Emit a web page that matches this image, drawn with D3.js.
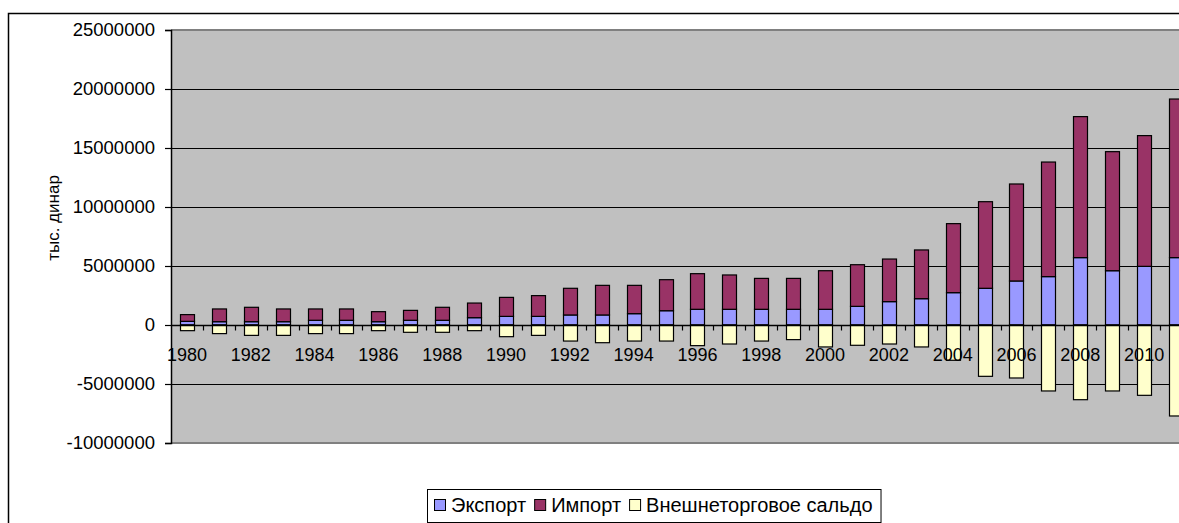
<!DOCTYPE html>
<html>
<head>
<meta charset="utf-8">
<script src="https://cdn.jsdelivr.net/npm/d3@7"></script>
<style>
  body { margin: 0; background: #fff; }
  svg { display: block; font-family: "Liberation Sans", Arial, sans-serif; }
</style>
</head>
<body>
<div id="chart"></div>
<script>
// --- data (тыс. динар) ---
const years = d3.range(1980, 2012).map(String);
const exportVals = [310000, 280000, 280000, 280000, 400000, 400000, 280000, 400000, 400000, 620000,
  730000, 730000, 850000, 850000, 960000, 1210000, 1330000, 1330000, 1330000, 1330000,
  1330000, 1580000, 1980000, 2230000, 2740000, 3110000, 3730000, 4100000, 5710000, 4600000,
  4970000, 5710000];
const importVals = [570000, 1080000, 1220000, 1080000, 960000, 960000, 850000, 840000, 1100000, 1240000,
  1610000, 1760000, 2260000, 2510000, 2400000, 2630000, 3020000, 2910000, 2620000, 2620000,
  3270000, 3530000, 3610000, 4130000, 5850000, 7340000, 8220000, 9710000, 11950000, 10090000,
  11080000, 13440000];
const saldoVals = [-480000, -730000, -880000, -880000, -730000, -730000, -480000, -620000, -620000, -480000,
  -990000, -880000, -1360000, -1500000, -1360000, -1360000, -1750000, -1610000, -1360000, -1240000,
  -1860000, -1720000, -1610000, -1860000, -2990000, -4350000, -4490000, -5590000, -6330000, -5590000,
  -5960000, -7710000];
const yTicks = [-10000000, -5000000, 0, 5000000, 10000000, 15000000, 20000000, 25000000];
const seriesNames = ["Экспорт", "Импорт", "Внешнеторговое сальдо"];
const seriesColors = ["#9999FF", "#993366", "#FFFFCC"];

const width = 1179, height = 523;
const plot = { left: 171, top: 30, right: 1192, bottom: 443 };

const rows = years.map((y, i) => ({ year: y, exp: exportVals[i], imp: importVals[i], sal: saldoVals[i] }));
const keys = ["exp", "imp", "sal"];

const svg = d3.select("#chart").append("svg")
  .attr("width", width).attr("height", height);

// outer frame
svg.append("rect")
  .attr("x", 8.5).attr("y", 13.5)
  .attr("width", width + 20).attr("height", height + 20)
  .attr("fill", "#fff").attr("stroke", "#000").attr("stroke-width", 1.5);

// plot background
svg.append("rect")
  .attr("x", plot.left).attr("y", plot.top)
  .attr("width", plot.right - plot.left).attr("height", plot.bottom - plot.top)
  .attr("fill", "#C0C0C0");

const x = d3.scaleBand().domain(years).range([plot.left, plot.right])
  .paddingInner(0.56).paddingOuter(0.28);
const xCat = d3.scaleBand().domain(years).range([plot.left, plot.right]).padding(0);
const y = d3.scaleLinear().domain([-10000000, 25000000]).range([plot.bottom, plot.top]);

// gridlines
svg.append("g").selectAll("line")
  .data(yTicks.filter(v => v > -10000000 && v < 25000000))
  .enter().append("line")
  .attr("x1", plot.left).attr("x2", plot.right)
  .attr("y1", d => Math.round(y(d)) + 0.5).attr("y2", d => Math.round(y(d)) + 0.5)
  .attr("stroke", "#000").attr("stroke-width", 1);

// plot border top/bottom (gray)
svg.append("line").attr("x1", plot.left).attr("x2", plot.right)
  .attr("y1", plot.top).attr("y2", plot.top).attr("stroke", "#808080").attr("stroke-width", 2);
svg.append("line").attr("x1", plot.left).attr("x2", plot.right)
  .attr("y1", plot.bottom).attr("y2", plot.bottom).attr("stroke", "#808080").attr("stroke-width", 2);

// bars
const stacked = d3.stack().keys(keys).offset(d3.stackOffsetDiverging)(rows);
svg.append("g").selectAll("g")
  .data(stacked).enter().append("g")
  .attr("fill", (d, i) => seriesColors[i])
  .selectAll("rect")
  .data(d => d).enter().append("rect")
  .attr("x", d => Math.round(x(d.data.year)) + 0.5)
  .attr("width", Math.round(x.bandwidth()))
  .attr("y", d => y(Math.max(d[0], d[1])))
  .attr("height", d => Math.abs(y(d[0]) - y(d[1])))
  .attr("stroke", "#000").attr("stroke-width", 1.2);

// y axis
const yAxis = svg.append("g")
  .attr("transform", `translate(${plot.left},0)`)
  .call(d3.axisLeft(y).tickValues(yTicks).tickSize(6).tickPadding(10).tickFormat(d => String(d)));
yAxis.select(".domain").attr("stroke", "#000").attr("stroke-width", 1.5);
yAxis.selectAll(".tick line").attr("stroke", "#000").attr("stroke-width", 1.2);
yAxis.selectAll("text").attr("fill", "#000").style("font-size", "18.5px")
  .style("font-family", "'Liberation Sans', Arial, sans-serif");

// x axis along zero
const y0 = Math.round(y(0)) + 0.5;
svg.append("line").attr("x1", plot.left).attr("x2", plot.right)
  .attr("y1", y0).attr("y2", y0).attr("stroke", "#000").attr("stroke-width", 1.5);
svg.append("g").selectAll("line")
  .data(years.slice(1)).enter().append("line")
  .attr("x1", d => Math.round(xCat(d)) + 0.5).attr("x2", d => Math.round(xCat(d)) + 0.5)
  .attr("y1", y0).attr("y2", y0 + 5)
  .attr("stroke", "#000").attr("stroke-width", 1.2);
svg.append("g").selectAll("text")
  .data(years.filter((d, i) => i % 2 === 0)).enter().append("text")
  .attr("x", d => xCat(d) + xCat.bandwidth() / 2)
  .attr("y", y0 + 35)
  .attr("text-anchor", "middle")
  .style("font-size", "18px")
  .text(d => d);

// y axis title
svg.append("text")
  .attr("transform", "translate(59,218) rotate(-90)")
  .attr("text-anchor", "middle")
  .style("font-size", "17px")
  .text("тыс. динар");

// legend
const legend = svg.append("g");
const lx = 427, ly = 489;
let cx = lx + 7;
seriesNames.forEach((name, i) => {
  const g = legend.append("g");
  g.append("rect").attr("x", cx + 0.5).attr("y", ly + 10.5).attr("width", 11).attr("height", 11)
    .attr("fill", seriesColors[i]).attr("stroke", "#000").attr("stroke-width", 1);
  const t = g.append("text").attr("x", cx + 17).attr("y", ly + 23)
    .style("font-size", "20px").text(name);
  cx += 17 + t.node().getComputedTextLength() + 8;
});
legend.insert("rect", ":first-child")
  .attr("x", lx + 0.5).attr("y", ly + 0.5)
  .attr("width", cx - lx).attr("height", 33)
  .attr("fill", "#fff").attr("stroke", "#000").attr("stroke-width", 1);
</script>
</body>
</html>
